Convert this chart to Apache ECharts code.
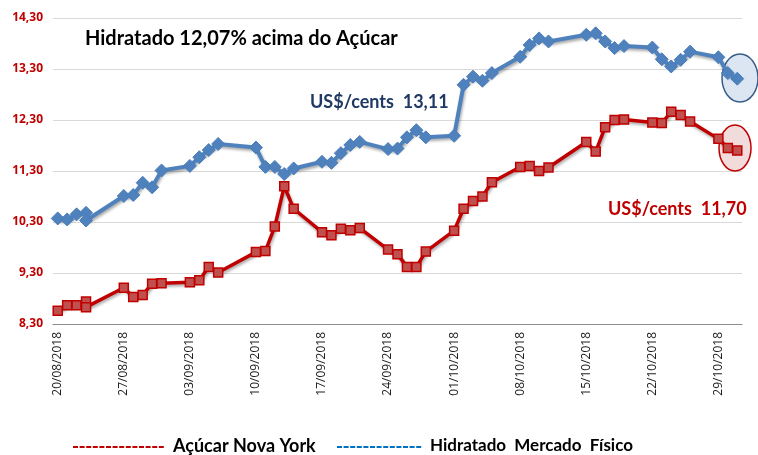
<!DOCTYPE html>
<html><head><meta charset="utf-8">
<script src="https://cdn.jsdelivr.net/npm/echarts@6/dist/echarts.min.js"></script>
<style>html,body{margin:0;padding:0;background:#fff}#c{width:758px;height:455px}</style>
</head><body><div id="c"></div>
<script>
// Axis categories: every calendar day 20/08/2018 .. 31/10/2018
const categories = [];
(function(){
  const d = new Date(2018, 7, 20);
  for (let i = 0; i < 73; i++) {
    const dd = String(d.getDate()).padStart(2,'0');
    const mm = String(d.getMonth()+1).padStart(2,'0');
    categories.push(dd + '/' + mm + '/' + d.getFullYear());
    d.setDate(d.getDate()+1);
  }
})();

const yTicks = [8.30, 9.30, 10.30, 11.30, 12.30, 13.30, 14.30];

const acucarDates = ['20/08/2018','21/08/2018','22/08/2018','23/08/2018','23/08/2018','27/08/2018','28/08/2018','29/08/2018','30/08/2018','31/08/2018',
  '03/09/2018','04/09/2018','05/09/2018','06/09/2018','10/09/2018','11/09/2018','12/09/2018','13/09/2018','14/09/2018',
  '17/09/2018','18/09/2018','19/09/2018','20/09/2018','21/09/2018','24/09/2018','25/09/2018','26/09/2018','27/09/2018','28/09/2018',
  '01/10/2018','02/10/2018','03/10/2018','04/10/2018','05/10/2018','08/10/2018','09/10/2018','10/10/2018','11/10/2018',
  '15/10/2018','16/10/2018','17/10/2018','18/10/2018','19/10/2018','22/10/2018','23/10/2018','24/10/2018','25/10/2018','26/10/2018',
  '29/10/2018','30/10/2018','31/10/2018'];
const acucarValues = [8.56,8.67,8.67,8.74,8.63,9.01,8.83,8.87,9.09,9.10,
  9.12,9.16,9.42,9.31,9.71,9.73,10.21,11.00,10.56,
  10.10,10.04,10.17,10.14,10.18,9.76,9.67,9.42,9.42,9.72,
  10.13,10.56,10.71,10.80,11.08,11.38,11.40,11.30,11.37,
  11.87,11.68,12.16,12.30,12.31,12.25,12.24,12.46,12.40,12.27,
  11.93,11.75,11.70];

const hidratadoDates = acucarDates.slice();
const hidratadoValues = [10.37,10.35,10.45,10.48,10.33,10.81,10.83,11.07,10.98,11.31,
  11.40,11.57,11.71,11.83,11.76,11.38,11.38,11.24,11.35,
  11.48,11.46,11.65,11.81,11.87,11.73,11.74,11.96,12.10,11.96,
  11.99,12.99,13.15,13.07,13.22,13.54,13.77,13.90,13.84,
  13.97,14.00,13.84,13.71,13.75,13.72,13.49,13.35,13.48,13.64,
  13.53,13.22,13.11];

const titleText = 'Hidratado 12,07% acima do Açúcar';
const blueNote = 'US$/cents  13,11';
const redNote = 'US$/cents  11,70';
const legendRed = 'Açúcar Nova York';
const legendBlue = 'Hidratado  Mercado  Físico';

const chart = echarts.init(document.getElementById('c'), null, {renderer:'canvas'});
const FONT = 'Lato';
const shadow = {shadowColor:'rgba(0,0,0,0.35)', shadowBlur:3, shadowOffsetX:1, shadowOffsetY:2};

chart.setOption({
  animation:false,
  backgroundColor:'#ffffff',
  grid:{left:53, right:16, top:18, bottom:131, containLabel:false},
  xAxis:{
    type:'category', data:categories, boundaryGap:true,
    axisLine:{show:true, lineStyle:{color:'#8c8c8c', width:1.2}},
    axisTick:{show:false},
    splitLine:{show:false},
    axisLabel:{interval:6, rotate:90, margin:8, color:'#1a1a1a', fontFamily:'Open Sans', fontSize:12}
  },
  yAxis:{
    type:'value', min:8.3, max:14.3, interval:1,
    axisLine:{show:false}, axisTick:{show:false},
    splitLine:{lineStyle:{color:'#d9d9d9', width:1}},
    axisLabel:{color:'#c00000', fontWeight:'bold', fontFamily:'Open Sans', fontSize:12, margin:10,
      formatter:v => v.toFixed(2).replace('.', ',')}
  },
  series:[
    {
      name:legendBlue, type:'line', z:3, showAllSymbol:true,
      data:hidratadoDates.map((d,i)=>[d, hidratadoValues[i]]),
      symbol:'diamond', symbolSize:13,
      lineStyle:Object.assign({color:'#4f81bd', width:4}, shadow),
      itemStyle:{color:'#4f81bd', borderColor:'#4a7ebb', borderWidth:1}
    },
    {
      name:legendRed, type:'line', z:3, showAllSymbol:true,
      data:acucarDates.map((d,i)=>[d, acucarValues[i]]),
      symbol:'rect', symbolSize:9,
      lineStyle:Object.assign({color:'#c00000', width:3.5}, shadow),
      itemStyle:{color:'#c0504d', borderColor:'#c00000', borderWidth:1.5}
    }
  ],
  graphic:[
    {type:'ellipse', z:1, shape:{cx:740, cy:78, rx:18, ry:24},
      style:{fill:'#dce6f2', stroke:'#385d8a', lineWidth:1.5}},
    {type:'ellipse', z:1, shape:{cx:735, cy:148, rx:16, ry:23},
      style:{fill:'#f2dcdb', stroke:'#c00000', lineWidth:1.5}},
    {type:'text', z:10, left:85, top:29, style:{text:titleText, fill:'#000', font:'bold 20px '+FONT}},
    {type:'text', z:10, left:310, top:93, style:{text:blueNote, fill:'#1f3864', font:'bold 18px '+FONT}},
    {type:'text', z:10, left:608, top:200, style:{text:redNote, fill:'#c00000', font:'bold 18px '+FONT}},
    {type:'line', z:10, shape:{x1:73, y1:447, x2:165, y2:447}, style:{stroke:'#c00000', lineWidth:2, lineDash:[5,1.6]}},
    {type:'text', z:10, left:173, top:437, style:{text:legendRed, fill:'#000', font:'bold 18px '+FONT}},
    {type:'line', z:10, shape:{x1:337, y1:447, x2:422, y2:447}, style:{stroke:'#0070c0', lineWidth:2, lineDash:[5,1.6]}},
    {type:'text', z:10, left:430, top:437, style:{text:legendBlue, fill:'#000', font:'bold 17px '+FONT}}
  ]
});
</script>
</body></html>
